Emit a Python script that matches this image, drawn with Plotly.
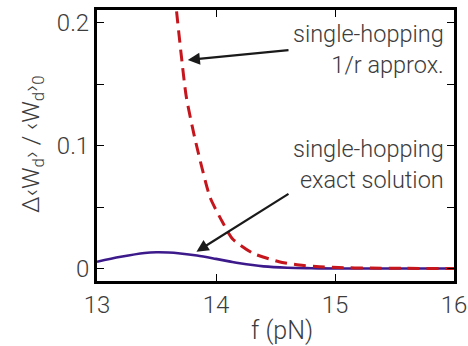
import plotly.graph_objects as go

# Force (pN)
f_approx = [13.64, 13.667, 13.71, 13.75, 13.82, 13.95, 14.06, 14.14, 14.31, 14.53, 14.70, 14.87, 15.03, 15.3, 15.6, 16.0]
# Relative work change, single-hopping 1/r approximation
dw_approx = [0.240, 0.211, 0.172, 0.140, 0.107, 0.058, 0.0368, 0.0240, 0.0124, 0.0055, 0.0028, 0.0015, 0.0007, 0.0003, 0.0001, 0.0]

# Force (pN)
f_exact = [13.0, 13.2, 13.4, 13.5, 13.6, 13.7, 13.84, 14.0, 14.11, 14.2, 14.4, 14.6, 14.8, 15.0, 15.5, 16.0]
# Relative work change, single-hopping exact solution
dw_exact = [0.0055, 0.0095, 0.0126, 0.0132, 0.0130, 0.0122, 0.0105, 0.0078, 0.0058, 0.0042, 0.0017, 0.0006, 0.0002, 0.0, 0.0, 0.0]

FONT = "Roboto"
TXT = "#3c3c3c"
W_LIGHT = 300

fig = go.Figure()
fig.add_trace(go.Scatter(
    x=f_exact, y=dw_exact, mode="lines",
    line=dict(color="#3d1a8c", width=2.6, shape="spline", smoothing=1.0),
    hoverinfo="skip", showlegend=False,
))
fig.add_trace(go.Scatter(
    x=f_approx, y=dw_approx, mode="lines",
    line=dict(color="#c4161c", width=3, dash="12px,7px", shape="spline", smoothing=0.6),
    hoverinfo="skip", showlegend=False,
))

axis_common = dict(
    showline=True, linecolor="black", linewidth=3, mirror="ticks",
    ticks="inside", ticklen=7, tickwidth=1.3, tickcolor="black",
    showgrid=False, zeroline=False, automargin=False,
    tickfont=dict(family=FONT, size=24, color=TXT, weight=W_LIGHT),
)

fig.update_xaxes(range=[13, 16], tickvals=[13, 14, 15, 16], **axis_common)
fig.update_yaxes(
    range=[-0.0102, 0.2105], tickvals=[0, 0.1, 0.2], ticktext=["0", "0.1", "0.2"],
    minor=dict(tickvals=[0.05, 0.15], ticks="inside", ticklen=7, tickwidth=1.3, tickcolor="black"),
    **axis_common,
)

PLOT_W, PLOT_H, L, T = 357, 271, 97, 10

# axis titles
fig.add_annotation(
    xref="paper", yref="paper",
    x=(32 - L) / PLOT_W, y=1 - (144 - T) / PLOT_H,
    xanchor="center", yanchor="middle", textangle=-90, showarrow=False,
    text="Δ‹W<sub>d</sub>› / ‹W<sub>d</sub>›<sub>0</sub>",
    font=dict(family=FONT, size=24, color=TXT, weight=W_LIGHT),
)
fig.add_annotation(
    xref="paper", yref="paper",
    x=(282 - L) / PLOT_W, y=1 - (330 - T) / PLOT_H,
    xanchor="center", yanchor="middle", showarrow=False,
    text="f (pN)",
    font=dict(family=FONT, size=25, color=TXT, weight=W_LIGHT),
)

ann_font = dict(family=FONT, size=23.5, color=TXT, weight=W_LIGHT)
fig.add_annotation(
    xref="paper", yref="paper", x=(446 - L) / PLOT_W, y=1 - 8 / PLOT_H,
    xanchor="right", yanchor="top", align="right",
    text="single-hopping<br>1/r approx.", showarrow=False, font=ann_font,
)
fig.add_annotation(
    xref="paper", yref="paper", x=(446 - L) / PLOT_W, y=1 - 123 / PLOT_H,
    xanchor="right", yanchor="top", align="right",
    text="single-hopping<br>exact solution", showarrow=False, font=ann_font,
)
# arrows pointing at the two curves
fig.add_annotation(
    x=13.763, y=0.1698, ax=13.0 + (290 - L) / 119.0, ay=(268.5 - 50) / 1228,
    axref="x", ayref="y", text="", showarrow=True,
    arrowhead=2, arrowsize=1.1, arrowwidth=2.2, arrowcolor="#1a1a1a",
)
fig.add_annotation(
    x=13.836, y=0.0137, ax=13.0 + (290 - L) / 119.0, ay=(268.5 - 193) / 1228,
    axref="x", ayref="y", text="", showarrow=True,
    arrowhead=2, arrowsize=1.1, arrowwidth=2.2, arrowcolor="#1a1a1a",
)

fig.update_layout(
    width=468, height=346,
    margin=dict(l=L, r=14, t=T, b=65),
    plot_bgcolor="white", paper_bgcolor="white",
    font=dict(family=FONT, color=TXT),
)

fig.write_html("out.html")
